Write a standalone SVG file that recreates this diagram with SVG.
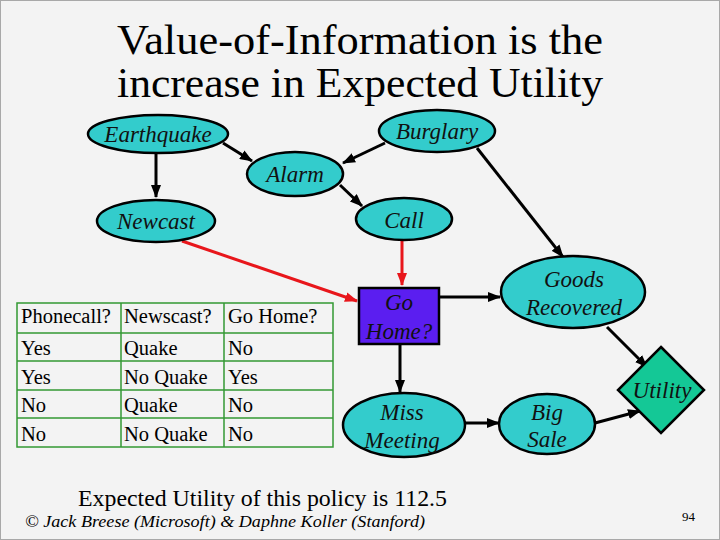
<svg xmlns="http://www.w3.org/2000/svg" width="720" height="540" viewBox="0 0 720 540">
<style>
.serif{font-family:"Liberation Serif","Tinos","Times New Roman","DejaVu Serif",serif}
.ttl{font-size:42px;fill:#000;text-anchor:middle}
.lbl{font-style:italic;font-size:23px;fill:#111;text-anchor:middle}
.node{fill:#33cccc;stroke:#000;stroke-width:2.5}
.tbl{font-size:20.5px;fill:#000}
.grid{stroke:#339933;stroke-width:1.5;fill:none}
.e{stroke:#000;stroke-width:3;fill:none;marker-end:url(#ab)}
.r{stroke:#e8161b;stroke-width:3;fill:none;marker-end:url(#ar)}
</style>
<defs>
<marker id="ab" markerUnits="userSpaceOnUse" markerWidth="13" markerHeight="10" refX="12" refY="5" orient="auto">
<path d="M0,0 L13,5 L0,10 z" fill="#000"/>
</marker>
<marker id="ar" markerUnits="userSpaceOnUse" markerWidth="13" markerHeight="10" refX="12" refY="5" orient="auto">
<path d="M0,0 L13,5 L0,10 z" fill="#e8161b"/>
</marker>
</defs>
<rect x="0" y="0" width="720" height="540" fill="#f3f3f3"/>
<rect x="0.5" y="0.5" width="719" height="539" fill="none" stroke="#a8a8a8" stroke-width="1"/>

<text class="serif ttl" x="360" y="54" textLength="486" lengthAdjust="spacingAndGlyphs">Value-of-Information is the</text>
<text class="serif ttl" x="360" y="97" textLength="486" lengthAdjust="spacingAndGlyphs">increase in Expected Utility</text>

<g id="connectors">
<line class="e" x1="223" y1="143" x2="252" y2="161"/>
<line class="e" x1="385" y1="143" x2="343" y2="163"/>
<line class="e" x1="156" y1="154" x2="156" y2="197"/>
<line class="e" x1="340" y1="185" x2="362" y2="206"/>
<line class="e" x1="477" y1="148" x2="563" y2="257"/>
<line class="r" x1="402" y1="241" x2="402" y2="285"/>
<line class="r" x1="182" y1="241" x2="357" y2="301"/>
<line class="e" x1="440" y1="297" x2="500" y2="297"/>
<line class="e" x1="400" y1="344" x2="400" y2="392"/>
<line class="e" x1="465" y1="423" x2="499" y2="423"/>
<line class="e" x1="595" y1="423" x2="640" y2="411"/>
<line class="e" x1="607" y1="327" x2="647" y2="367"/>
</g>

<g id="earthquake"><ellipse class="node" cx="158" cy="134" rx="70" ry="19"/><text class="serif lbl" x="158" y="142">Earthquake</text></g>
<g id="burglary"><ellipse class="node" cx="437" cy="131" rx="58" ry="21"/><text class="serif lbl" x="437" y="139">Burglary</text></g>
<g id="alarm"><ellipse class="node" cx="295" cy="174" rx="48" ry="22"/><text class="serif lbl" x="295" y="182">Alarm</text></g>
<g id="newcast"><ellipse class="node" cx="156" cy="221" rx="59" ry="21"/><text class="serif lbl" x="156" y="229">Newcast</text></g>
<g id="call"><ellipse class="node" cx="404" cy="219" rx="48" ry="21"/><text class="serif lbl" x="404" y="228">Call</text></g>
<g id="gohome"><rect x="359" y="288" width="80" height="56" fill="#5b1ef0" stroke="#000" stroke-width="2.5"/><text class="serif lbl" x="399" y="310">Go</text><text class="serif lbl" x="399" y="339">Home?</text></g>
<g id="goods"><ellipse class="node" cx="573" cy="292" rx="72" ry="36"/><text class="serif lbl" x="574" y="287">Goods</text><text class="serif lbl" x="574" y="315">Recovered</text></g>
<g id="miss"><ellipse class="node" cx="404" cy="425" rx="61" ry="32"/><text class="serif lbl" x="402" y="420">Miss</text><text class="serif lbl" x="402" y="448">Meeting</text></g>
<g id="bigsale"><ellipse class="node" cx="547" cy="424" rx="48" ry="30"/><text class="serif lbl" x="547" y="420">Big</text><text class="serif lbl" x="547" y="447">Sale</text></g>
<g id="utility"><polygon points="661,347 704,390 661,433 618,390" fill="#14c896" stroke="#000" stroke-width="2.5"/><text class="serif lbl" x="662" y="398">Utility</text></g>

<g id="table">
<rect class="grid" x="17" y="303" width="316" height="144"/>
<line class="grid" x1="121" y1="303" x2="121" y2="447"/>
<line class="grid" x1="224" y1="303" x2="224" y2="447"/>
<line class="grid" x1="17" y1="333" x2="333" y2="333"/>
<line class="grid" x1="17" y1="361" x2="333" y2="361"/>
<line class="grid" x1="17" y1="390" x2="333" y2="390"/>
<line class="grid" x1="17" y1="418" x2="333" y2="418"/>
<text class="serif tbl" x="21" y="323">Phonecall?</text><text class="serif tbl" x="124" y="323">Newscast?</text><text class="serif tbl" x="228" y="323">Go Home?</text>
<text class="serif tbl" x="21" y="355">Yes</text><text class="serif tbl" x="124" y="355">Quake</text><text class="serif tbl" x="228" y="355">No</text>
<text class="serif tbl" x="21" y="384">Yes</text><text class="serif tbl" x="124" y="384">No Quake</text><text class="serif tbl" x="228" y="384">Yes</text>
<text class="serif tbl" x="21" y="412">No</text><text class="serif tbl" x="124" y="412">Quake</text><text class="serif tbl" x="228" y="412">No</text>
<text class="serif tbl" x="21" y="441">No</text><text class="serif tbl" x="124" y="441">No Quake</text><text class="serif tbl" x="228" y="441">No</text>
</g>

<text class="serif" x="78" y="506" font-size="23" fill="#000" textLength="369" lengthAdjust="spacingAndGlyphs">Expected Utility of this policy is 112.5</text>
<text class="serif" x="25" y="527" font-style="italic" font-size="17" fill="#000" textLength="400" lengthAdjust="spacingAndGlyphs">© Jack Breese (Microsoft) &amp; Daphne Koller (Stanford)</text>
<text class="serif" x="682" y="521" font-size="13" fill="#000">94</text>
</svg>
